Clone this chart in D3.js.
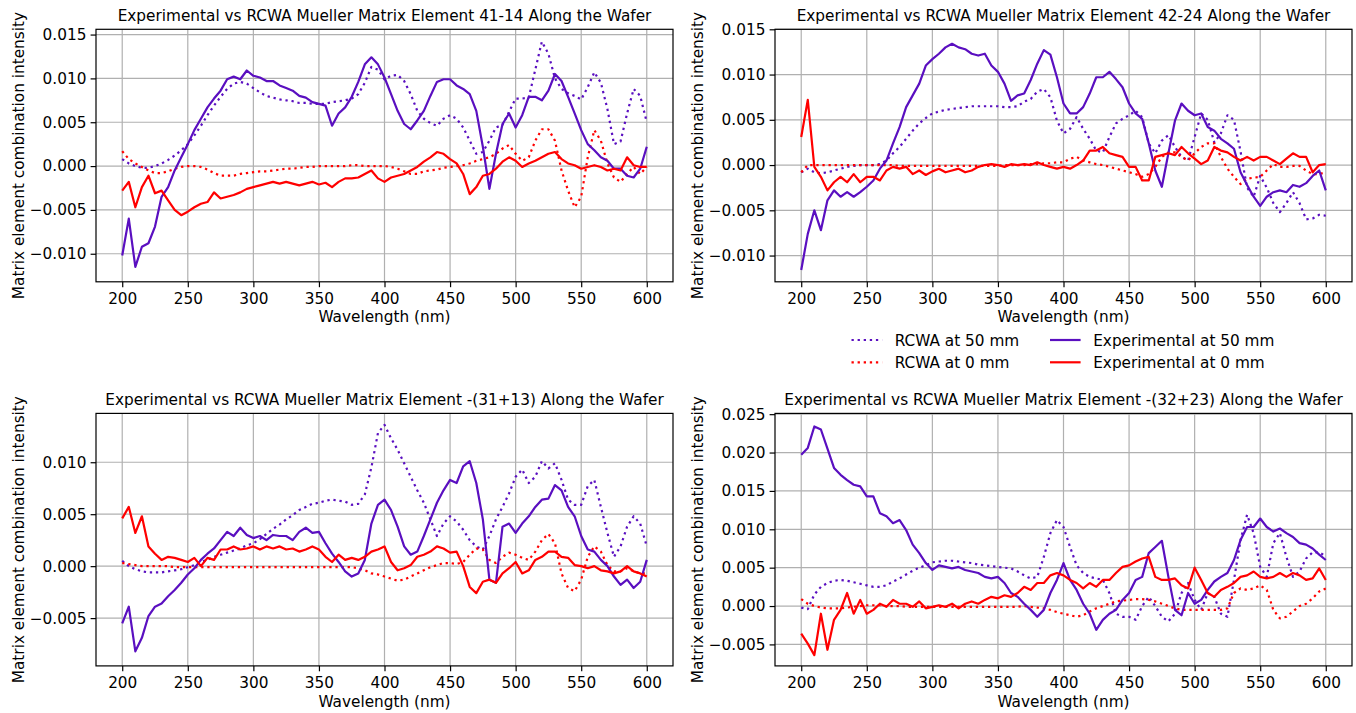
<!DOCTYPE html>
<html lang="en">
  <head>
    <meta charset="UTF-8">
    <title>Experimental vs RCWA Mueller Matrix Elements</title>

    <style>
      body {
        margin: 0;
        background: #fff;
      }

      text {
        font-family: "DejaVu Sans", sans-serif;
        font-size: 15.3px;
        fill: #000;
      }

      .grid line {
        stroke: #b0b0b0;
        stroke-width: 1.2;
      }

      .frame {
        fill: none;
        stroke: #000;
        stroke-width: 1.2;
      }

      .axis line {
        stroke: #000;
        stroke-width: 1.2;
      }
    </style>
  </head>
  <body>
    <svg id="chart"></svg>

    <script src="https://cdn.jsdelivr.net/npm/d3@7/dist/d3.min.js"></script>

    <script>
      // Wavelength grid (nm) shared by every series, read every 5 nm
      var wavelengths = d3.range(200, 601, 5);
      var xTicks = [200, 250, 300, 350, 400, 450, 500, 550, 600];

      var legendLabels = ["RCWA at 50 mm", "RCWA at 0 mm", "Experimental at 50 mm", "Experimental at 0 mm"];

      // Element 41-14
      var rcwa50_41_14 = [
        0.0008, 0.0003, 0.0000, -0.0002, -0.0002, 0.0000, 0.0003, 0.0007, 0.0012, 0.0018,
        0.0025, 0.0035, 0.0046, 0.0058, 0.0069, 0.0079, 0.0088, 0.0094, 0.0096, 0.0094,
        0.0089, 0.0084, 0.0080, 0.0078, 0.0076, 0.0075, 0.0074, 0.0072, 0.0072, 0.0071,
        0.0071, 0.0071, 0.0073, 0.0074, 0.0075, 0.0077, 0.0082, 0.0095, 0.0113, 0.0110,
        0.0099, 0.0103, 0.0104, 0.0097, 0.0082, 0.0063, 0.0054, 0.0049, 0.0046, 0.0054,
        0.0058, 0.0054, 0.0044, 0.0029, 0.0014, 0.0016, 0.0029, 0.0044, 0.0047, 0.0062,
        0.0077, 0.0077, 0.0078, 0.0110, 0.0142, 0.0128, 0.0100, 0.0088, 0.0083, 0.0080,
        0.0076, 0.0090, 0.0107, 0.0095, 0.0065, 0.0025, 0.0028, 0.0060, 0.0088, 0.0080,
        0.0050
      ];
      var rcwa0_41_14 = [
        0.0017, 0.0008, 0.0003, -0.0001, -0.0005, -0.0008, -0.0008, -0.0006, -0.0003, -0.0001,
        0.0000, 0.0000, -0.0001, -0.0004, -0.0008, -0.0011, -0.0011, -0.0011, -0.0009, -0.0008,
        -0.0007, -0.0006, -0.0006, -0.0005, -0.0004, -0.0003, -0.0003, -0.0002, -0.0001, -0.0001,
        0.0000, 0.0000, 0.0000, 0.0000, 0.0000, 0.0001, 0.0001, 0.0000, 0.0000, 0.0000,
        0.0000, -0.0001, -0.0003, -0.0006, -0.0009, -0.0009, -0.0006, -0.0005, -0.0004, -0.0002,
        -0.0001, 0.0000, 0.0001, 0.0003, 0.0006, 0.0008, 0.0010, 0.0014, 0.0020, 0.0024,
        0.0014, 0.0006, 0.0010, 0.0029, 0.0042, 0.0042, 0.0029, -0.0005, -0.0028, -0.0047,
        -0.0035, 0.0010, 0.0041, 0.0029, 0.0003, -0.0013, -0.0018, -0.0009, -0.0001, -0.0009,
        -0.0001
      ];
      var exp50_41_14 = [
        -0.0102, -0.0060, -0.0115, -0.0092, -0.0088, -0.0069, -0.0035, -0.0024, -0.0005, 0.0010,
        0.0025, 0.0041, 0.0054, 0.0067, 0.0077, 0.0086, 0.0099, 0.0102, 0.0099, 0.0109,
        0.0103, 0.0101, 0.0097, 0.0097, 0.0092, 0.0089, 0.0086, 0.0080, 0.0078, 0.0073,
        0.0071, 0.0069, 0.0046, 0.0060, 0.0067, 0.0079, 0.0096, 0.0116, 0.0124, 0.0116,
        0.0101, 0.0082, 0.0063, 0.0048, 0.0042, 0.0052, 0.0063, 0.0080, 0.0096, 0.0099,
        0.0099, 0.0092, 0.0088, 0.0082, 0.0063, 0.0022, -0.0026, 0.0014, 0.0048, 0.0060,
        0.0044, 0.0058, 0.0079, 0.0079, 0.0075, 0.0086, 0.0105, 0.0097, 0.0079, 0.0060,
        0.0041, 0.0025, 0.0018, 0.0010, 0.0006, -0.0003, -0.0003, -0.0011, -0.0013, -0.0003,
        0.0022
      ];
      var exp0_41_14 = [
        -0.0028, -0.0018, -0.0047, -0.0024, -0.0011, -0.0031, -0.0028, -0.0039, -0.0050, -0.0056,
        -0.0052, -0.0047, -0.0043, -0.0041, -0.0030, -0.0037, -0.0035, -0.0033, -0.0030, -0.0026,
        -0.0024, -0.0022, -0.0020, -0.0018, -0.0020, -0.0018, -0.0020, -0.0022, -0.0020, -0.0018,
        -0.0021, -0.0019, -0.0024, -0.0018, -0.0014, -0.0014, -0.0013, -0.0009, -0.0005, -0.0014,
        -0.0018, -0.0013, -0.0011, -0.0009, -0.0005, -0.0001, 0.0005, 0.0010, 0.0016, 0.0014,
        0.0008, 0.0003, -0.0009, -0.0032, -0.0024, -0.0011, -0.0009, -0.0003, 0.0005, 0.0010,
        0.0006, -0.0001, 0.0003, 0.0006, 0.0010, 0.0014, 0.0016, 0.0008, 0.0003, 0.0001,
        -0.0003, -0.0001, 0.0001, -0.0001, -0.0005, -0.0003, -0.0005, 0.0010, 0.0001, -0.0001,
        -0.0001
      ];

      // Element 42-24
      var rcwa50_42_24 = [
        -0.0008, -0.0004, -0.0008, -0.0009, -0.0008, -0.0006, -0.0004, -0.0002, -0.0001, 0.0000,
        0.0000, 0.0000, 0.0001, 0.0005, 0.0013, 0.0020, 0.0029, 0.0038, 0.0046, 0.0052,
        0.0057, 0.0059, 0.0061, 0.0062, 0.0063, 0.0064, 0.0065, 0.0065, 0.0065, 0.0065,
        0.0065, 0.0064, 0.0064, 0.0065, 0.0070, 0.0073, 0.0081, 0.0084, 0.0075, 0.0049,
        0.0035, 0.0040, 0.0053, 0.0040, 0.0029, 0.0016, 0.0014, 0.0031, 0.0046, 0.0051,
        0.0055, 0.0060, 0.0053, 0.0024, 0.0013, 0.0027, 0.0033, 0.0020, 0.0009, 0.0005,
        0.0031, 0.0057, 0.0050, 0.0025, 0.0035, 0.0055, 0.0050, 0.0015, -0.0025, -0.0035,
        -0.0012, -0.0025, -0.0042, -0.0052, -0.0042, -0.0030, -0.0042, -0.0060, -0.0059, -0.0055,
        -0.0056
      ];
      var rcwa0_42_24 = [
        -0.0008, 0.0000, 0.0000, 0.0000, 0.0000, 0.0000, 0.0000, 0.0000, 0.0000, 0.0000,
        0.0000, 0.0000, 0.0000, 0.0000, 0.0000, -0.0001, -0.0001, -0.0001, -0.0001, -0.0001,
        -0.0001, -0.0001, -0.0001, -0.0001, -0.0001, -0.0001, -0.0001, -0.0001, -0.0001, -0.0001,
        -0.0001, 0.0000, 0.0000, 0.0000, 0.0000, 0.0001, 0.0001, 0.0002, 0.0002, 0.0003,
        0.0003, 0.0007, 0.0009, 0.0005, 0.0003, 0.0001, 0.0000, -0.0002, -0.0004, -0.0006,
        -0.0008, -0.0010, -0.0013, -0.0010, -0.0002, 0.0009, 0.0014, 0.0014, 0.0009, 0.0005,
        0.0013, 0.0020, 0.0024, 0.0024, 0.0009, -0.0004, -0.0013, -0.0021, -0.0015, -0.0014,
        -0.0013, -0.0006, 0.0001, -0.0002, -0.0002, -0.0001, -0.0001, -0.0006, -0.0010, -0.0010,
        -0.0008
      ];
      var exp50_42_24 = [
        -0.0116, -0.0076, -0.0050, -0.0072, -0.0039, -0.0028, -0.0035, -0.0030, -0.0035, -0.0030,
        -0.0024, -0.0017, -0.0004, 0.0005, 0.0024, 0.0042, 0.0064, 0.0077, 0.0090, 0.0110,
        0.0117, 0.0123, 0.0130, 0.0134, 0.0130, 0.0128, 0.0123, 0.0121, 0.0123, 0.0110,
        0.0103, 0.0090, 0.0071, 0.0077, 0.0079, 0.0094, 0.0112, 0.0127, 0.0122, 0.0097,
        0.0068, 0.0057, 0.0057, 0.0064, 0.0079, 0.0097, 0.0097, 0.0103, 0.0095, 0.0086,
        0.0068, 0.0057, 0.0051, 0.0024, -0.0006, -0.0024, 0.0013, 0.0049, 0.0068, 0.0060,
        0.0055, 0.0057, 0.0042, 0.0038, 0.0029, 0.0024, 0.0018, -0.0008, -0.0022, -0.0035,
        -0.0045, -0.0035, -0.0030, -0.0028, -0.0030, -0.0022, -0.0024, -0.0020, -0.0012, -0.0006,
        -0.0028
      ];
      var exp0_42_24 = [
        0.0031, 0.0072, -0.0002, -0.0013, -0.0028, -0.0019, -0.0013, -0.0019, -0.0010, -0.0019,
        -0.0013, -0.0013, -0.0017, -0.0006, -0.0002, -0.0004, -0.0002, -0.0010, -0.0006, -0.0011,
        -0.0007, -0.0004, -0.0008, -0.0006, -0.0004, -0.0008, -0.0006, -0.0002, 0.0000, 0.0001,
        0.0000, -0.0002, 0.0001, 0.0000, 0.0001, 0.0000, 0.0003, 0.0000, -0.0002, -0.0004,
        -0.0002, -0.0004, 0.0000, 0.0005, 0.0016, 0.0016, 0.0020, 0.0013, 0.0011, 0.0009,
        -0.0002, -0.0002, -0.0017, -0.0017, 0.0009, 0.0011, 0.0013, 0.0011, 0.0020, 0.0013,
        0.0007, 0.0001, 0.0005, 0.0020, 0.0016, 0.0014, 0.0009, 0.0005, 0.0009, 0.0005,
        0.0009, 0.0009, 0.0005, 0.0001, 0.0007, 0.0013, 0.0009, 0.0009, -0.0008, 0.0000,
        0.0001
      ];

      // Element -(31+13)
      var rcwa50_31_13 = [
        0.0005, 0.0000, -0.0003, -0.0005, -0.0006, -0.0006, -0.0006, -0.0005, -0.0004, -0.0003,
        -0.0001, 0.0001, 0.0004, 0.0006, 0.0009, 0.0011, 0.0013, 0.0015, 0.0017, 0.0020,
        0.0022, 0.0026, 0.0031, 0.0036, 0.0040, 0.0045, 0.0049, 0.0054, 0.0057, 0.0060,
        0.0061, 0.0063, 0.0064, 0.0063, 0.0062, 0.0059, 0.0060, 0.0069, 0.0095, 0.0128,
        0.0136, 0.0123, 0.0112, 0.0099, 0.0086, 0.0073, 0.0061, 0.0045, 0.0029, 0.0041,
        0.0048, 0.0043, 0.0035, 0.0025, 0.0019, 0.0016, 0.0029, 0.0045, 0.0057, 0.0070,
        0.0086, 0.0093, 0.0080, 0.0086, 0.0101, 0.0094, 0.0099, 0.0083, 0.0064, 0.0059,
        0.0059, 0.0077, 0.0083, 0.0057, 0.0032, 0.0009, 0.0019, 0.0038, 0.0048, 0.0041,
        0.0019
      ];
      var rcwa0_31_13 = [
        0.0003, 0.0002, 0.0001, 0.0000, 0.0000, 0.0000, 0.0000, 0.0000, -0.0001, -0.0001,
        -0.0001, -0.0001, -0.0001, -0.0001, -0.0001, -0.0001, -0.0001, -0.0001, -0.0001, -0.0001,
        -0.0001, -0.0001, -0.0001, -0.0001, -0.0001, -0.0001, -0.0001, -0.0001, -0.0001, -0.0001,
        -0.0001, -0.0001, -0.0001, -0.0001, -0.0001, -0.0001, -0.0002, -0.0004, -0.0007, -0.0008,
        -0.0010, -0.0012, -0.0014, -0.0013, -0.0010, -0.0007, -0.0004, -0.0001, 0.0001, 0.0003,
        0.0003, 0.0002, 0.0004, 0.0011, 0.0017, 0.0016, 0.0006, 0.0003, 0.0009, 0.0013,
        0.0011, 0.0008, 0.0006, 0.0014, 0.0025, 0.0031, 0.0022, -0.0007, -0.0021, -0.0024,
        -0.0013, 0.0009, 0.0019, 0.0014, 0.0001, -0.0005, -0.0005, -0.0002, -0.0005, -0.0007,
        -0.0007
      ];
      var exp50_31_13 = [
        -0.0055, -0.0039, -0.0082, -0.0069, -0.0048, -0.0039, -0.0036, -0.0029, -0.0023, -0.0016,
        -0.0008, -0.0002, 0.0006, 0.0012, 0.0017, 0.0025, 0.0033, 0.0029, 0.0037, 0.0030,
        0.0027, 0.0029, 0.0025, 0.0030, 0.0029, 0.0029, 0.0025, 0.0033, 0.0037, 0.0032,
        0.0033, 0.0022, 0.0012, 0.0004, -0.0005, -0.0010, -0.0007, 0.0006, 0.0041, 0.0059,
        0.0064, 0.0054, 0.0038, 0.0019, 0.0011, 0.0014, 0.0029, 0.0045, 0.0061, 0.0073,
        0.0083, 0.0080, 0.0096, 0.0101, 0.0080, 0.0045, -0.0013, -0.0016, 0.0038, 0.0041,
        0.0032, 0.0041, 0.0048, 0.0057, 0.0064, 0.0065, 0.0078, 0.0073, 0.0057, 0.0048,
        0.0029, 0.0016, 0.0014, 0.0006, 0.0000, -0.0010, -0.0018, -0.0013, -0.0021, -0.0015,
        0.0006
      ];
      var exp0_31_13 = [
        0.0046, 0.0057, 0.0032, 0.0048, 0.0019, 0.0012, 0.0006, 0.0009, 0.0008, 0.0006,
        0.0004, 0.0008, 0.0000, 0.0008, 0.0006, 0.0016, 0.0016, 0.0019, 0.0016, 0.0017,
        0.0019, 0.0016, 0.0019, 0.0017, 0.0019, 0.0016, 0.0017, 0.0014, 0.0016, 0.0019,
        0.0016, 0.0009, 0.0004, 0.0011, 0.0006, 0.0008, 0.0006, 0.0009, 0.0014, 0.0016,
        0.0019, 0.0004, -0.0004, -0.0002, 0.0001, 0.0009, 0.0011, 0.0014, 0.0019, 0.0017,
        0.0013, 0.0014, 0.0000, -0.0020, -0.0026, -0.0015, -0.0013, -0.0016, -0.0007, -0.0002,
        0.0004, -0.0007, -0.0004, 0.0006, 0.0009, 0.0014, 0.0014, 0.0009, 0.0008, 0.0001,
        0.0000, -0.0002, 0.0000, -0.0004, -0.0005, -0.0007, -0.0005, 0.0000, -0.0005, -0.0007,
        -0.0010
      ];

      // Element -(32+23)
      var rcwa50_32_23 = [
        -0.0002, -0.0004, 0.0015, 0.0025, 0.0030, 0.0033, 0.0034, 0.0033, 0.0031, 0.0029,
        0.0027, 0.0025, 0.0025, 0.0027, 0.0032, 0.0036, 0.0041, 0.0046, 0.0050, 0.0053,
        0.0057, 0.0058, 0.0059, 0.0059, 0.0058, 0.0057, 0.0056, 0.0054, 0.0053, 0.0052,
        0.0051, 0.0050, 0.0049, 0.0045, 0.0040, 0.0036, 0.0038, 0.0064, 0.0095, 0.0112,
        0.0103, 0.0077, 0.0053, 0.0043, 0.0038, 0.0036, 0.0034, 0.0017, -0.0010, -0.0014,
        -0.0014, -0.0018, 0.0000, 0.0012, 0.0000, -0.0014, -0.0020, -0.0010, 0.0017, 0.0030,
        0.0008, -0.0005, 0.0017, 0.0012, -0.0010, -0.0014, 0.0034, 0.0086, 0.0119, 0.0095,
        0.0051, 0.0038, 0.0082, 0.0095, 0.0064, 0.0038, 0.0045, 0.0062, 0.0070, 0.0070,
        0.0065
      ];
      var rcwa0_32_23 = [
        0.0009, 0.0003, 0.0000, -0.0002, -0.0003, -0.0003, -0.0003, -0.0002, -0.0001, 0.0000,
        0.0001, 0.0001, 0.0001, 0.0000, 0.0000, 0.0000, -0.0001, -0.0001, -0.0001, -0.0001,
        -0.0001, -0.0001, -0.0001, -0.0001, -0.0001, -0.0001, -0.0001, -0.0001, -0.0001, -0.0001,
        -0.0001, -0.0001, -0.0001, -0.0001, 0.0000, -0.0001, -0.0002, -0.0003, -0.0005, -0.0008,
        -0.0010, -0.0012, -0.0014, -0.0012, -0.0007, -0.0003, 0.0000, 0.0003, 0.0006, 0.0007,
        0.0008, 0.0009, 0.0009, 0.0008, 0.0006, 0.0003, 0.0000, -0.0003, -0.0005, -0.0005,
        -0.0005, -0.0005, -0.0005, -0.0005, -0.0005, -0.0003, 0.0017, 0.0023, 0.0021, 0.0023,
        0.0027, 0.0021, -0.0005, -0.0016, -0.0014, -0.0007, 0.0000, 0.0003, 0.0010, 0.0019,
        0.0023
      ];
      var exp50_32_23 = [
        0.0197, 0.0206, 0.0234, 0.0230, 0.0205, 0.0180, 0.0171, 0.0164, 0.0158, 0.0156,
        0.0143, 0.0143, 0.0121, 0.0117, 0.0108, 0.0112, 0.0099, 0.0080, 0.0069, 0.0056,
        0.0047, 0.0053, 0.0051, 0.0049, 0.0051, 0.0047, 0.0045, 0.0043, 0.0038, 0.0036,
        0.0038, 0.0030, 0.0017, 0.0012, 0.0003, -0.0005, -0.0014, -0.0005, 0.0017, 0.0034,
        0.0056, 0.0034, 0.0021, 0.0003, -0.0010, -0.0031, -0.0018, -0.0010, -0.0005, 0.0008,
        0.0017, 0.0034, 0.0038, 0.0069, 0.0077, 0.0085, 0.0038, -0.0005, -0.0012, 0.0017,
        0.0003, 0.0008, 0.0021, 0.0032, 0.0038, 0.0043, 0.0060, 0.0086, 0.0103, 0.0103,
        0.0114, 0.0103, 0.0097, 0.0101, 0.0095, 0.0090, 0.0082, 0.0080, 0.0075, 0.0067,
        0.0060
      ];
      var exp0_32_23 = [
        -0.0036, -0.0049, -0.0064, -0.0010, -0.0057, -0.0018, -0.0005, 0.0017, -0.0010, 0.0008,
        -0.0010, -0.0005, 0.0003, -0.0001, 0.0008, 0.0003, 0.0003, -0.0001, 0.0006, -0.0003,
        -0.0001, 0.0001, -0.0001, 0.0003, -0.0003, 0.0003, 0.0006, 0.0003, 0.0008, 0.0012,
        0.0010, 0.0014, 0.0012, 0.0017, 0.0025, 0.0021, 0.0030, 0.0030, 0.0040, 0.0043,
        0.0040, 0.0034, 0.0030, 0.0023, 0.0030, 0.0025, 0.0034, 0.0034, 0.0043, 0.0051,
        0.0053, 0.0058, 0.0062, 0.0064, 0.0038, 0.0034, 0.0034, 0.0036, 0.0027, 0.0023,
        0.0050, 0.0034, 0.0017, 0.0012, 0.0021, 0.0025, 0.0030, 0.0038, 0.0040, 0.0045,
        0.0038, 0.0036, 0.0038, 0.0043, 0.0038, 0.0043, 0.0040, 0.0034, 0.0036, 0.0049,
        0.0034
      ];

      var width = 1356;
      var height = 713;
      var plotW = 577;
      var plotH = 252.5;

      var purple = "#5a0fc0";
      var red = "#ff0000";

      // Line styles in legend order: RCWA 50, RCWA 0, Exp 50, Exp 0
      var styles = [
        { color: purple, dash: "2.3,3.8" },
        { color: red, dash: "2.3,3.8" },
        { color: purple, dash: null },
        { color: red, dash: null }
      ];

      var panels = [
        {
          title: "Experimental vs RCWA Mueller Matrix Element 41-14 Along the Wafer",
          left: 96, top: 29.3, yDomain: [-0.0132, 0.0156],
          yTicks: [-0.010, -0.005, 0.000, 0.005, 0.010, 0.015],
          series: [rcwa50_41_14, rcwa0_41_14, exp50_41_14, exp0_41_14]
        },
        {
          title: "Experimental vs RCWA Mueller Matrix Element 42-24 Along the Wafer",
          left: 775, top: 29.3, yDomain: [-0.0129, 0.0150],
          yTicks: [-0.010, -0.005, 0.000, 0.005, 0.010, 0.015],
          series: [rcwa50_42_24, rcwa0_42_24, exp50_42_24, exp0_42_24]
        },
        {
          title: "Experimental vs RCWA Mueller Matrix Element -(31+13) Along the Wafer",
          left: 96, top: 413.4, yDomain: [-0.0096, 0.0147],
          yTicks: [-0.005, 0.000, 0.005, 0.010],
          series: [rcwa50_31_13, rcwa0_31_13, exp50_31_13, exp0_31_13]
        },
        {
          title: "Experimental vs RCWA Mueller Matrix Element -(32+23) Along the Wafer",
          left: 775, top: 413.4, yDomain: [-0.0078, 0.0251],
          yTicks: [-0.005, 0.000, 0.005, 0.010, 0.015, 0.020, 0.025],
          series: [rcwa50_32_23, rcwa0_32_23, exp50_32_23, exp0_32_23]
        }
      ];

      var svg = d3.select("#chart")
        .attr("width", width)
        .attr("height", height);

      var fmt = d3.format(".3f");

      panels.forEach(function(p, i) {
        var x = d3.scaleLinear().domain([180, 620]).range([p.left, p.left + plotW]);
        var y = d3.scaleLinear().domain(p.yDomain).range([p.top + plotH, p.top]);

        var g = svg.append("g").attr("class", "panel");

        // grid lines under everything else
        var grid = g.append("g").attr("class", "grid");
        grid.selectAll(".vx")
          .data(xTicks)
          .enter()
          .append("line")
          .attr("x1", function(d) { return x(d); })
          .attr("x2", function(d) { return x(d); })
          .attr("y1", p.top)
          .attr("y2", p.top + plotH);
        grid.selectAll(".hy")
          .data(p.yTicks)
          .enter()
          .append("line")
          .attr("x1", p.left)
          .attr("x2", p.left + plotW)
          .attr("y1", function(d) { return y(d); })
          .attr("y2", function(d) { return y(d); });

        g.append("clipPath")
          .attr("id", "clip" + i)
          .append("rect")
          .attr("x", p.left)
          .attr("y", p.top)
          .attr("width", plotW)
          .attr("height", plotH);

        var line = d3.line()
          .x(function(d, k) { return x(wavelengths[k]); })
          .y(function(d) { return y(d); });

        g.append("g")
          .attr("clip-path", "url(#clip" + i + ")")
          .selectAll("path")
          .data(p.series)
          .enter()
          .append("path")
          .attr("d", function(d) { return line(d); })
          .attr("fill", "none")
          .attr("stroke", function(d, k) { return styles[k].color; })
          .attr("stroke-width", 2.2)
          .attr("stroke-linejoin", "round")
          .attr("stroke-dasharray", function(d, k) { return styles[k].dash; });

        // axes
        var xAxis = g.append("g")
          .attr("class", "axis")
          .attr("transform", "translate(0," + (p.top + plotH) + ")")
          .call(d3.axisBottom(x).tickValues(xTicks).tickSize(5.4).tickSizeOuter(0).tickPadding(5.7));
        var yAxis = g.append("g")
          .attr("class", "axis")
          .attr("transform", "translate(" + p.left + ",0)")
          .call(d3.axisLeft(y).tickValues(p.yTicks).tickFormat(fmt).tickSize(5.4).tickSizeOuter(0).tickPadding(4.2));

        g.selectAll(".axis .domain").remove();
        g.selectAll(".axis").attr("font-family", null).attr("font-size", null);

        g.append("rect")
          .attr("class", "frame")
          .attr("x", p.left)
          .attr("y", p.top)
          .attr("width", plotW)
          .attr("height", plotH);

        g.append("text")
          .attr("x", p.left + plotW / 2)
          .attr("y", p.top - 8.6)
          .attr("text-anchor", "middle")
          .text(p.title);

        g.append("text")
          .attr("x", p.left + plotW / 2)
          .attr("y", p.top + plotH + 40.6)
          .attr("text-anchor", "middle")
          .text("Wavelength (nm)");

        g.append("text")
          .attr("transform", "translate(" + (p.left - 72.5) + "," + (p.top + plotH / 2) + ") rotate(-90)")
          .attr("text-anchor", "middle")
          .text("Matrix element combination intensity");
      });

      // Legend, two columns below the top-right plot
      var legendPos = [
        { x: 851.5, y: 340 },
        { x: 851.5, y: 362.3 },
        { x: 1050, y: 340 },
        { x: 1050, y: 362.3 }
      ];

      var legend = svg.append("g")
        .selectAll("g")
        .data(legendLabels)
        .enter()
        .append("g")
        .attr("transform", function(d, k) { return "translate(" + legendPos[k].x + "," + legendPos[k].y + ")"; });

      legend.append("line")
        .attr("x1", 0)
        .attr("x2", 30.6)
        .attr("y1", 0)
        .attr("y2", 0)
        .attr("stroke", function(d, k) { return styles[k].color; })
        .attr("stroke-width", 2.2)
        .attr("stroke-dasharray", function(d, k) { return styles[k].dash; });

      legend.append("text")
        .attr("x", 43.2)
        .attr("y", 5.5)
        .text(function(d) { return d; });
    </script>
  </body>
</html>
